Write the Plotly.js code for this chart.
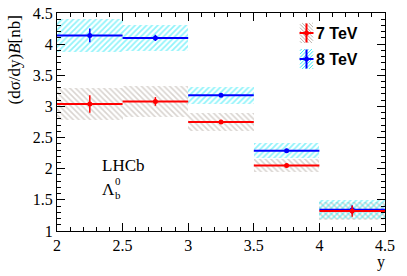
<!DOCTYPE html>
<html><head><meta charset="utf-8">
<script src="https://cdn.plot.ly/plotly-3.0.1.min.js"></script>
<style>html,body{margin:0;padding:0;background:#fff}</style>
</head><body><div id="plot" style="width:407px;height:276px"></div>
<script>
var binCenters = [2.25, 2.75, 3.25, 3.75, 4.25];
var binHalfWidth = 0.25;
var val7 = [3.04, 3.08, 2.75, 2.05, 1.32];
var stat7 = [0.14, 0.07, 0.03, 0.03, 0.09];
var syst7 = [0.25, 0.25, 0.14, 0.11, 0.15];
var val8 = [4.14, 4.10, 3.18, 2.29, 1.34];
var stat8 = [0.11, 0.05, 0.03, 0.03, 0.07];
var syst8 = [0.27, 0.21, 0.14, 0.12, 0.15];
var seriesNames = ['7 TeV', '8 TeV'];

var gray = '#b3aaa2', cyan = '#22e8f5', red = '#ff0000', blue = '#0000ff';

function boxTrace(vals, systs, name, color, shape, solidity) {
  return {
    type: 'bar', x: binCenters, width: binCenters.map(function(){return 2*binHalfWidth;}),
    base: vals.map(function(v,i){return v - systs[i];}),
    y: systs.map(function(s){return 2*s;}),
    name: name, showlegend: false,
    marker: {color: 'rgba(0,0,0,0)', line: {width: 0},
      pattern: {shape: shape, fgcolor: color, bgcolor: 'rgba(0,0,0,0)', size: 4, solidity: solidity, fillmode: 'overlay'}},
    hoverinfo: 'skip'
  };
}
function pointTrace(vals, stats, name, color) {
  return {
    type: 'scatter', mode: 'markers', x: binCenters, y: vals, name: name, showlegend: false,
    marker: {color: color, size: 5},
    error_x: {type: 'constant', value: binHalfWidth, thickness: 2, width: 0, color: color},
    error_y: {type: 'data', array: stats, thickness: 1.5, width: 0, color: color}
  };
}
var data = [
  boxTrace(val7, syst7, seriesNames[0], gray, '\\', 0.4),
  boxTrace(val8, syst8, seriesNames[1], cyan, '/', 0.45),
  pointTrace(val8, stat8, seriesNames[1], blue),
  pointTrace(val7, stat7, seriesNames[0], red)
];
var serif = 'Liberation Serif';
// plot area in pixels: left 57, right 385, top 13, bottom 231
function px2x(p){return (p-57)/328;}
function px2y(p){return 1-(p-13)/218;}

// legend decoration: hatched swatch + cross
function hatchPath(x0, x1, y0, y1, step, dir) {
  var d = '';
  var cmin, cmax, c;
  if (dir === '\\') { cmin = x0 - y1; cmax = x1 - y0; }
  else { cmin = x0 + y0; cmax = x1 + y1; }
  for (c = cmin + step/2; c < cmax; c += step) {
    var xa, xb, ya, yb;
    if (dir === '\\') {
      xa = Math.max(x0, y0 + c); xb = Math.min(x1, y1 + c);
      if (xb <= xa) continue;
      ya = xa - c; yb = xb - c;
    } else {
      xa = Math.max(x0, c - y1); xb = Math.min(x1, c - y0);
      if (xb <= xa) continue;
      ya = c - xa; yb = c - xb;
    }
    d += 'M' + px2x(xa) + ',' + px2y(ya) + 'L' + px2x(xb) + ',' + px2y(yb);
  }
  return d;
}
function legendSymbol(cx, cy, color, hatchColor, dir) {
  return [
    {type:'path', xref:'paper', yref:'paper', path: hatchPath(cx-6.5, cx+6.5, cy-10, cy+10, 3.4, dir),
     line:{color: hatchColor, width: 0.9}},
    {type:'line', xref:'paper', yref:'paper', x0:px2x(cx), x1:px2x(cx), y0:px2y(cy-9.5), y1:px2y(cy+9.5), line:{color:color, width:2}},
    {type:'line', xref:'paper', yref:'paper', x0:px2x(cx-7), x1:px2x(cx+7), y0:px2y(cy), y1:px2y(cy), line:{color:color, width:2}},
    {type:'circle', xref:'paper', yref:'paper', x0:px2x(cx-2.5), x1:px2x(cx+2.5), y0:px2y(cy-2.5), y1:px2y(cy+2.5),
     fillcolor: color, line:{width:0}}
  ];
}
var legY = [33, 59];
var layout = {
  width: 407, height: 276,
  margin: {l: 57, r: 22, t: 13, b: 45},
  paper_bgcolor: '#fff', plot_bgcolor: '#fff',
  barmode: 'overlay', bargap: 0,
  showlegend: false,
  xaxis: {range: [2, 4.5], dtick: 0.5, tick0: 2, showgrid: false, zeroline: false,
    showline: true, linecolor: '#000', linewidth: 1, mirror: 'ticks',
    ticks: 'inside', ticklen: 8, tickcolor: '#000', tickwidth: 1,
    minor: {dtick: 0.1, ticklen: 4, ticks: 'inside', tickcolor: '#000', showgrid: false},
    tickfont: {family: serif, size: 16, color: '#000'}
  },
  yaxis: {range: [1, 4.5], dtick: 0.5, tick0: 1, showgrid: false, zeroline: false,
    showline: true, linecolor: '#000', linewidth: 1, mirror: 'ticks',
    ticks: 'inside', ticklen: 8, tickcolor: '#000', tickwidth: 1,
    minor: {dtick: 0.1, ticklen: 4, ticks: 'inside', tickcolor: '#000', showgrid: false},
    tickfont: {family: serif, size: 16, color: '#000'}
  },
  shapes: [].concat(legendSymbol(306.5, legY[0], red, gray, '\\'), legendSymbol(306.5, legY[1], blue, cyan, '/')),
  annotations: [
    {xref: 'paper', yref: 'paper', x: px2x(314), y: px2y(legY[0]), xanchor: 'left', yanchor: 'middle', showarrow: false,
     text: '<b>' + seriesNames[0] + '</b>', font: {family: 'Liberation Sans', size: 16, color: '#000'}},
    {xref: 'paper', yref: 'paper', x: px2x(314), y: px2y(legY[1]), xanchor: 'left', yanchor: 'middle', showarrow: false,
     text: '<b>' + seriesNames[1] + '</b>', font: {family: 'Liberation Sans', size: 16, color: '#000'}},
    {xref: 'paper', yref: 'paper', x: px2x(14), y: px2y(14), xanchor: 'center', yanchor: 'top', textangle: -90, showarrow: false,
     text: '(dσ/dy)<i>B</i>[nb]', font: {family: serif, size: 17, color: '#000'}},
    {xref: 'paper', yref: 'paper', x: px2x(381), y: px2y(262), xanchor: 'center', yanchor: 'middle', showarrow: false,
     text: 'y', font: {family: serif, size: 16, color: '#000'}},
    {xref: 'paper', yref: 'paper', x: px2x(100), y: px2y(165), xanchor: 'left', yanchor: 'middle', showarrow: false,
     text: 'LHCb', font: {family: serif, size: 17, color: '#000'}},
    {xref: 'paper', yref: 'paper', x: px2x(100), y: px2y(189.5), xanchor: 'left', yanchor: 'middle', showarrow: false,
     text: 'Λ', font: {family: serif, size: 17, color: '#000'}},
    {xref: 'paper', yref: 'paper', x: px2x(113), y: px2y(180.5), xanchor: 'left', yanchor: 'middle', showarrow: false,
     text: '0', font: {family: serif, size: 11, color: '#000'}},
    {xref: 'paper', yref: 'paper', x: px2x(113), y: px2y(195), xanchor: 'left', yanchor: 'middle', showarrow: false,
     text: 'b', font: {family: serif, size: 11, color: '#000'}}
  ]
};
Plotly.newPlot('plot', data, layout, {staticPlot: true, displayModeBar: false});
</script></body></html>
